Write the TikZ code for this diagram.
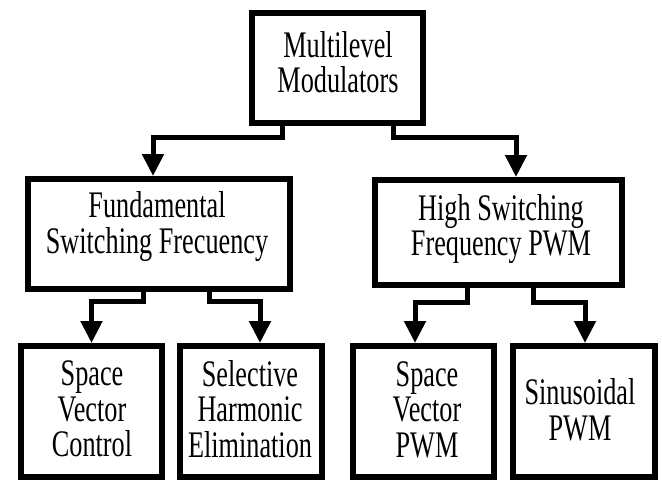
\documentclass[tikz,border=0pt]{standalone}
\usepackage{fontspec}
\setmainfont{Liberation Serif}[FakeStretch=0.7]
\usetikzlibrary{arrows.meta}
\begin{document}
\begin{tikzpicture}[x=1pt,y=-1pt,
  boxnode/.style={draw=black, line width=6pt, rectangle, inner sep=0pt, fill=none},
  txt/.style={align=center, inner sep=0pt, font=\fontsize{37.5}{35.5}\selectfont},
  conn/.style={draw=black, line width=5pt, line join=miter, -{Triangle[width=21pt,length=22pt]}}
]
\useasboundingbox (0,0) rectangle (662,483);
% boxes (line centres)
\node[boxnode, minimum width=171pt, minimum height=110pt] (top) at (337.5,68) {};
\node[boxnode, minimum width=262pt, minimum height=110pt] (fund) at (159,234) {};
\node[boxnode, minimum width=247pt, minimum height=105pt] (hs) at (498.5,232.5) {};
\node[boxnode, minimum width=141pt, minimum height=131pt] (svc) at (91.5,411.5) {};
\node[boxnode, minimum width=142pt, minimum height=131pt] (she) at (251,411.5) {};
\node[boxnode, minimum width=141pt, minimum height=131pt] (svpwm) at (423.5,411.5) {};
\node[boxnode, minimum width=142pt, minimum height=131pt] (sin) at (584,411.5) {};
% texts
\node[txt] (ttop) at (338,62) {Multilevel\\Modulators};
\node[txt] (tfund) at (157,226.5) {Fundamental\\Switching Frecuency};
\node[txt] (ths) at (501,229) {High Switching\\Frequency PWM};
\node[txt] (tsvc) at (92,409) {Space\\Vector\\Control};
\node[txt] (tshe) at (250,409) {Selective\\Harmonic\\Elimination};
\node[txt] (tsvpwm) at (427,409.5) {Space\\Vector\\PWM};
\node[txt] (tsin) at (580,410) {Sinusoidal\\PWM};
% connectors
\draw[conn] ([xshift=-55.5pt]top.south) -- ++(0,11) -| ([xshift=-6pt]fund.north);
\draw[conn] ([xshift=55.5pt]top.south) -- ++(0,11) -| ([xshift=17.5pt]hs.north);
\draw[conn] ([xshift=-16pt]fund.south) -- ++(0,9) -| (svc.north);
\draw[conn] ([xshift=50pt]fund.south) -- ++(0,9) -| ([xshift=9pt]she.north);
\draw[conn] ([xshift=-31.5pt]hs.south) -- ++(0,14) -| ([xshift=-8.5pt]svpwm.north);
\draw[conn] ([xshift=34.5pt]hs.south) -- ++(0,14) -| ([xshift=1pt]sin.north);
\end{tikzpicture}
\end{document}
